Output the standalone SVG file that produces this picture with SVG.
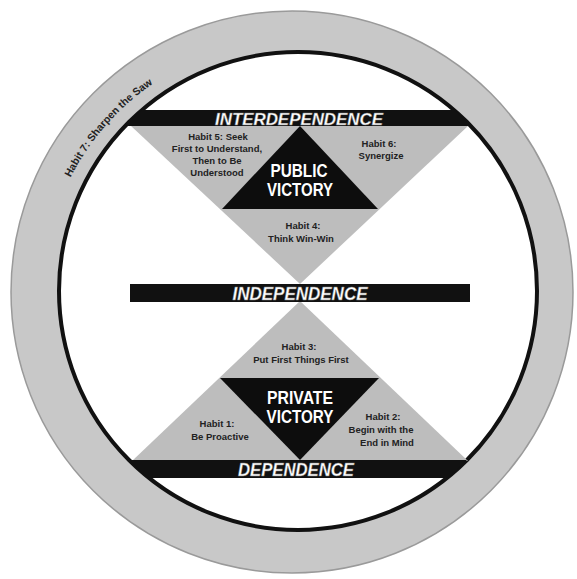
<svg xmlns="http://www.w3.org/2000/svg" width="577" height="579" viewBox="0 0 577 579">
<style>
.bar{fill:#111}
.gray{fill:#bdbdbd}
.dark{fill:#0d0d0d}
.band{font-family:"Liberation Sans",Arial,sans-serif;font-weight:bold;font-style:italic;fill:#fff;stroke:#777;stroke-width:0.4;text-anchor:middle}
.vic{font-family:"Liberation Sans",Arial,sans-serif;font-weight:bold;fill:#fff;text-anchor:middle}
.habit{font-family:"Liberation Sans",Arial,sans-serif;font-weight:bold;font-size:9.5px;fill:#222;text-anchor:middle}
</style>
<defs>
<clipPath id="inner"><circle cx="298" cy="291" r="239"/></clipPath>
<path id="arc7" d="M 70.5 177.6 A 252 252 0 0 1 208.8 55.1" fill="none"/>
</defs>
<rect width="577" height="579" fill="#fff"/>
<g id="ring">
<circle cx="292" cy="292" r="281" fill="#c8c8c8" stroke="#9a9a9a" stroke-width="1.5"/>
<circle cx="298" cy="291" r="239" fill="#fff" stroke="#111" stroke-width="4"/>
<text font-family="Liberation Sans,Arial,sans-serif" font-weight="bold" font-size="10.5" fill="#222"><textPath href="#arc7">Habit 7: Sharpen the Saw</textPath></text>
</g>
<g id="public-triangle">
<polygon class="gray" points="131,126 468,126 300,284"/>
<polygon class="dark" points="300,126 378,209 222,209"/>
</g>
<g id="private-triangle">
<polygon class="gray" points="300,301 132,461 468,461"/>
<polygon class="dark" points="220,378 379,378 300,460"/>
</g>
<g id="interdependence">
<rect class="bar" x="100" y="110" width="400" height="16" clip-path="url(#inner)"/>
<text class="band" x="299" y="125" font-size="17" textLength="168" lengthAdjust="spacingAndGlyphs">INTERDEPENDENCE</text>
</g>
<g id="independence">
<rect class="bar" x="130" y="284" width="340" height="18"/>
<text class="band" x="300" y="300" font-size="18" textLength="135" lengthAdjust="spacingAndGlyphs">INDEPENDENCE</text>
</g>
<g id="dependence">
<rect class="bar" x="100" y="460" width="400" height="18" clip-path="url(#inner)"/>
<text class="band" x="296" y="476" font-size="18" textLength="116" lengthAdjust="spacingAndGlyphs">DEPENDENCE</text>
</g>
<g id="public-victory">
<text class="vic" x="299" y="177" font-size="18" textLength="57" lengthAdjust="spacingAndGlyphs">PUBLIC</text>
<text class="vic" x="300" y="196" font-size="18" textLength="66" lengthAdjust="spacingAndGlyphs">VICTORY</text>
</g>
<g id="private-victory">
<text class="vic" x="300" y="404" font-size="18" textLength="66" lengthAdjust="spacingAndGlyphs">PRIVATE</text>
<text class="vic" x="300" y="423" font-size="18" textLength="67" lengthAdjust="spacingAndGlyphs">VICTORY</text>
</g>
<g id="habit5">
<text class="habit" x="218" y="140">Habit 5:  Seek</text>
<text class="habit" x="217" y="152">First to Understand,</text>
<text class="habit" x="217" y="164">Then to Be</text>
<text class="habit" x="217" y="176">Understood</text>
</g>
<g id="habit6">
<text class="habit" x="379" y="147">Habit 6:</text>
<text class="habit" x="381" y="159">Synergize</text>
</g>
<g id="habit4">
<text class="habit" x="303" y="229">Habit 4:</text>
<text class="habit" x="301" y="242">Think Win-Win</text>
</g>
<g id="habit3">
<text class="habit" x="299" y="350">Habit 3:</text>
<text class="habit" x="301" y="363">Put First Things First</text>
</g>
<g id="habit1">
<text class="habit" x="217" y="427">Habit 1:</text>
<text class="habit" x="220" y="440">Be Proactive</text>
</g>
<g id="habit2">
<text class="habit" x="383" y="420">Habit 2:</text>
<text class="habit" x="381" y="433">Begin with the</text>
<text class="habit" x="387" y="446">End in Mind</text>
</g>
<g id="connectors"/>
</svg>
